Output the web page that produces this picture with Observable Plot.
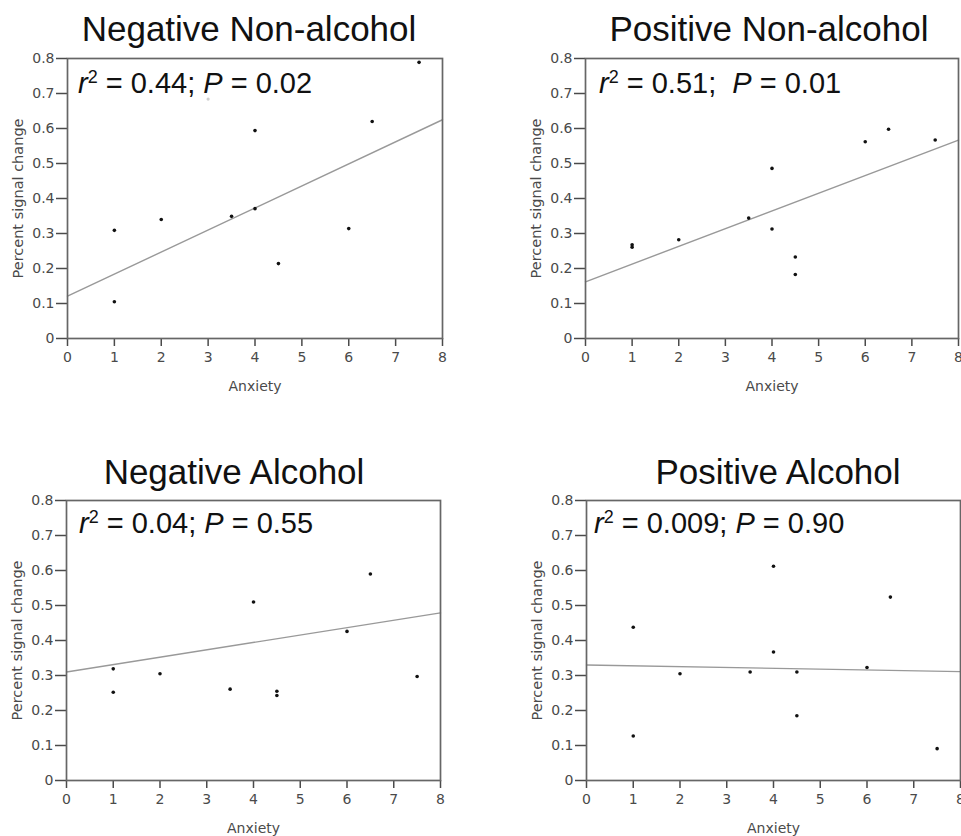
<!DOCTYPE html>
<html><head><meta charset="utf-8">
<script src="https://cdn.jsdelivr.net/npm/d3@7"></script>
<script src="https://cdn.jsdelivr.net/npm/@observablehq/plot@0.6"></script>
<style>
html,body{margin:0;padding:0;background:#fff;}
#root{position:relative;width:961px;height:836px;overflow:hidden;font-family:"Liberation Sans",Arial,sans-serif;}
.panel{position:absolute;}
.title{position:absolute;font-size:35px;line-height:35px;color:#111;white-space:nowrap;transform:translateX(-50%);}
.stat{position:absolute;font-size:29px;line-height:29px;color:#111;white-space:pre;}
.stat sup{font-size:0.62em;position:relative;top:-0.55em;vertical-align:baseline;line-height:0;}
</style></head><body><div id="root"></div>
<script>
// ---- data ----
const panelNames = ["Negative Non-alcohol", "Positive Non-alcohol", "Negative Alcohol", "Positive Alcohol"];
const rSquared = ["0.44", "0.51", "0.04", "0.009"];
const pValues = ["0.02", "0.01", "0.55", "0.90"];
const statGap = [" ", "  ", " ", " "];
const anxietyTicks = [0, 1, 2, 3, 4, 5, 6, 7, 8];
const signalTicks = [0, 0.1, 0.2, 0.3, 0.4, 0.5, 0.6, 0.7, 0.8];
const xLabel = "Anxiety";
const yLabel = "Percent signal change";

const nnaAnxiety = [1, 1, 2, 3.5, 4, 4, 4.5, 6, 6.5, 7.5];
const nnaSignal  = [0.309, 0.105, 0.340, 0.349, 0.371, 0.594, 0.214, 0.314, 0.620, 0.789];
const nnaFaintAnxiety = [3];
const nnaFaintSignal  = [0.684];
const nnaFit = [0.121, 0.625]; // fitted value at anxiety 0 and 8

const pnaAnxiety = [1, 1, 2, 3.5, 4, 4, 4.5, 4.5, 6, 6.5, 7.5];
const pnaSignal  = [0.268, 0.261, 0.282, 0.344, 0.486, 0.313, 0.233, 0.183, 0.562, 0.598, 0.567];
const pnaFit = [0.162, 0.567];

const naAnxiety = [1, 1, 2, 3.5, 4, 4.5, 4.5, 6, 6.5, 7.5];
const naSignal  = [0.319, 0.252, 0.305, 0.261, 0.510, 0.255, 0.243, 0.426, 0.590, 0.297];
const naFit = [0.310, 0.479];

const paAnxiety = [1, 1, 2, 3.5, 4, 4, 4.5, 4.5, 6, 6.5, 7.5];
const paSignal  = [0.438, 0.127, 0.305, 0.310, 0.612, 0.367, 0.310, 0.185, 0.323, 0.524, 0.091];
const paFit = [0.330, 0.311];

// ---- layout ----
const root = document.getElementById("root");
const panels = [
  {x: nnaAnxiety, y: nnaSignal, fx: nnaFaintAnxiety, fy: nnaFaintSignal, fit: nnaFit,
   left: 0, top: 0, w: 480, h: 420, m: [58, 38, 82, 67], titleX: 249, titleTop: 11, statX: 78, statTop: 68.5},
  {x: pnaAnxiety, y: pnaSignal, fit: pnaFit,
   left: 480, top: 0, w: 481, h: 420, m: [58, 3, 82, 105], titleX: 769, titleTop: 11, statX: 599, statTop: 68.5},
  {x: naAnxiety, y: naSignal, fit: naFit,
   left: 0, top: 420, w: 480, h: 416, m: [80, 40, 56, 66], titleX: 234, titleTop: 453.7, statX: 79, statTop: 508.8},
  {x: paAnxiety, y: paSignal, fit: paFit,
   left: 480, top: 420, w: 481, h: 416, m: [80, 1, 56, 106], titleX: 778, titleTop: 453.7, statX: 594, statTop: 508.8}
];

panels.forEach((p, k) => {
  const pts = p.x.map((x, i) => ({anxiety: x, signal: p.y[i]}));
  const faint = (p.fx || []).map((x, i) => ({anxiety: x, signal: p.fy[i]}));
  const fit = [{anxiety: anxietyTicks[0], signal: p.fit[0]}, {anxiety: anxietyTicks[anxietyTicks.length - 1], signal: p.fit[1]}];
  const chart = Plot.plot({
    width: p.w, height: p.h,
    marginTop: p.m[0], marginRight: p.m[1], marginBottom: p.m[2], marginLeft: p.m[3],
    style: {fontFamily: "'DejaVu Sans', sans-serif", fontSize: "14px", color: "#4a4a4a", background: "#fff"},
    x: {domain: [0, 8], label: null},
    y: {domain: [0, 0.8], label: null},
    marks: [
      Plot.axisX({ticks: anxietyTicks, tickSize: 8, tickPadding: 6, strokeWidth: 1.5, label: null, tickFormat: d => String(d)}),
      Plot.axisY({ticks: signalTicks, tickSize: 11, tickPadding: 2, strokeWidth: 1.5, label: null,
                  tickFormat: d => d === 0 ? "0" : d.toFixed(1)}),
      Plot.line(fit, {x: "anxiety", y: "signal", stroke: "#999", strokeWidth: 1.4}),
      Plot.dot(faint, {x: "anxiety", y: "signal", r: 1.6, fill: "#cfcfcf", stroke: "none"}),
      Plot.dot(pts, {x: "anxiety", y: "signal", r: 1.8, fill: "#111", stroke: "none"}),
      Plot.frame({stroke: "#666", strokeWidth: 1.7}),
      Plot.text([xLabel], {text: d => d, frameAnchor: "bottom", dy: 52, fill: "#4a4a4a", fontSize: 14}),
      Plot.text([yLabel], {text: d => d, frameAnchor: "left", dx: -49, rotate: -90, textAnchor: "middle", fill: "#4a4a4a", fontSize: 14.5})
    ]
  });
  chart.classList.add("panel");
  chart.style.left = p.left + "px";
  chart.style.top = p.top + "px";
  root.appendChild(chart);

  const t = document.createElement("div");
  t.className = "title";
  t.textContent = panelNames[k];
  t.style.left = p.titleX + "px";
  t.style.top = p.titleTop + "px";
  root.appendChild(t);

  const s = document.createElement("div");
  s.className = "stat";
  s.innerHTML = "<i>r</i><sup>2</sup> = " + rSquared[k] + ";" + statGap[k] + "<i>P</i> = " + pValues[k];
  s.style.left = p.statX + "px";
  s.style.top = p.statTop + "px";
  root.appendChild(s);
});
</script>
</body></html>
